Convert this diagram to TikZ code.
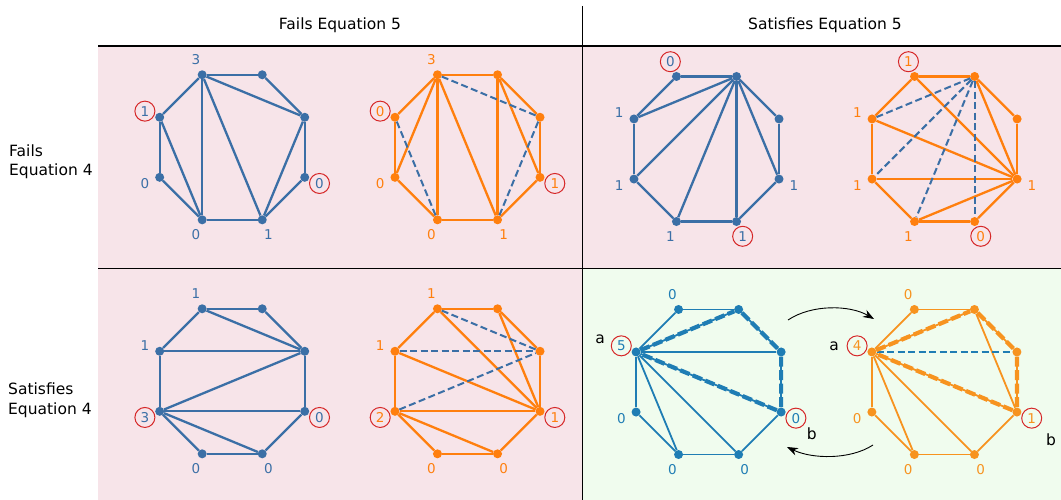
\documentclass[tikz,border=0pt]{standalone}
\usepackage{fontspec}
\setmainfont{DejaVu Sans}
\usetikzlibrary{arrows.meta}
\definecolor{blueA}{HTML}{3B6FA6}
\definecolor{orangeA}{HTML}{FF7F0E}
\definecolor{blueB}{HTML}{1F7DB4}
\definecolor{orangeB}{HTML}{F7931F}
\definecolor{ringred}{HTML}{D62728}
\definecolor{pinkbg}{HTML}{F7E4E9}
\definecolor{greenbg}{HTML}{F0FCEE}

\begin{document}
\begin{tikzpicture}[
    x=1pt, y=1pt,
    vtx/.style={circle, inner sep=0pt, minimum size=9pt},
    lbl/.style={font=\fontsize{13.5}{16}\selectfont, inner sep=0pt},
    ring/.style={lbl, draw=ringred, line width=1pt, circle, minimum size=20pt},
    hdr/.style={font=\fontsize{15.5}{19.5}\selectfont, inner sep=0pt},
    edge/.style={line width=2.3pt},
    fine/.style={line width=1.8pt},
    flip/.style={line width=2pt, dash pattern=on 7pt off 3.5pt},
    quad/.style={line width=4.2pt, dash pattern=on 10pt off 3.5pt},
    >={Stealth[length=11pt, width=8pt]}
]
\useasboundingbox (0,0) rectangle (1061,-500);
% panels
\fill[pinkbg] (98,-46) rectangle (582,-500);
\fill[pinkbg] (582,-46) rectangle (1061,-268);
\fill[greenbg] (582,-268) rectangle (1061,-500);
\draw[line width=1.3pt] (98,-46) -- (1061,-46);
\draw[line width=0.9pt] (98,-268) -- (1061,-268);
\draw[line width=0.9pt] (582,-6) -- (582,-500);

\node[hdr, anchor=base] (colF) at (340,-30) {Fails Equation 5};
\node[hdr, anchor=base] (colS) at (825,-30) {Satisfies Equation 5};
\node[hdr, anchor=base west, align=left] (rowF) at (9,-175.7) {Fails\\Equation 4};
\node[hdr, anchor=base west, align=left] (rowS) at (8,-414) {Satisfies\\Equation 4};

% octagons: vertex 0 top-left, clockwise
\foreach \g/\cx/\cy/\col/\e in {ffB/232.2/147.3/blueA/edge, ffO/467.5/147.3/orangeA/edge,
    fsB/706.5/149/blueA/edge, fsO/944.6/149/orangeA/edge,
    sfB/232.2/381.3/blueA/edge, sfO/467.5/381.3/orangeA/edge,
    ssB/708.6/382/blueB/fine, ssO/944.4/382/orangeB/fine} {
  \foreach \i in {0,...,7}
    \node[vtx, fill=\col] (\g\i) at ([shift={(\cx,-\cy)}]{112.5-45*\i}:78.5) {};
  \foreach \i [evaluate=\i as \j using {int(mod(\i+1,8))}] in {0,...,7}
    \draw[\e, \col] (\g\i) -- (\g\j);
}

% fails / fails
\foreach \a/\b in {0/2,0/5,0/4,7/5,2/4} \draw[edge, blueA] (ffB\a) -- (ffB\b);
\foreach \a/\b in {0/6,0/5,0/4,1/4,1/3} \draw[edge, orangeA] (ffO\a) -- (ffO\b);
\foreach \a/\b in {0/2,7/5,2/4} \draw[flip, blueA] (ffO\a) -- (ffO\b);
\foreach \i/\t/\s in {0/3/lbl,7/1/ring,6/0/lbl,5/0/lbl,4/1/lbl,3/0/ring}
  \node[\s, text=blueA] (ffB-l\i) at ([shift={({112.5-45*\i}:16)}]ffB\i) {\t};
\foreach \i/\t/\s in {0/3/lbl,7/0/ring,6/0/lbl,5/0/lbl,4/1/lbl,3/1/ring}
  \node[\s, text=orangeA] (ffO-l\i) at ([shift={({112.5-45*\i}:16)}]ffO\i) {\t};

% fails eq 4 / satisfies eq 5
\foreach \a/\b in {1/7,1/6,1/5,1/4,1/3} \draw[edge, blueA] (fsB\a) -- (fsB\b);
\foreach \a/\b in {0/3,7/3,6/3,5/3,1/3} \draw[edge, orangeA] (fsO\a) -- (fsO\b);
\foreach \a/\b in {1/7,1/6,1/5,1/4} \draw[flip, blueA] (fsO\a) -- (fsO\b);
\foreach \i/\t/\s in {0/0/ring,7/1/lbl,6/1/lbl,5/1/lbl,4/1/ring,3/1/lbl}
  \node[\s, text=blueA] (fsB-l\i) at ([shift={({112.5-45*\i}:16)}]fsB\i) {\t};
\foreach \i/\t/\s in {0/1/ring,7/1/lbl,6/1/lbl,5/1/lbl,4/0/ring,3/1/lbl}
  \node[\s, text=orangeA] (fsO-l\i) at ([shift={({112.5-45*\i}:16)}]fsO\i) {\t};

% satisfies eq 4 / fails eq 5
\foreach \a/\b in {0/2,7/2,6/2,6/3,6/4} \draw[edge, blueA] (sfB\a) -- (sfB\b);
\foreach \a/\b in {0/3,1/3,7/3,6/3,6/4} \draw[edge, orangeA] (sfO\a) -- (sfO\b);
\foreach \a/\b in {0/2,7/2,6/2} \draw[flip, blueA] (sfO\a) -- (sfO\b);
\foreach \i/\t/\s in {0/1/lbl,7/1/lbl,6/3/ring,5/0/lbl,4/0/lbl,3/0/ring}
  \node[\s, text=blueA] (sfB-l\i) at ([shift={({112.5-45*\i}:16)}]sfB\i) {\t};
\foreach \i/\t/\s in {0/1/lbl,7/1/lbl,6/2/ring,5/0/lbl,4/0/lbl,3/1/ring}
  \node[\s, text=orangeA] (sfO-l\i) at ([shift={({112.5-45*\i}:16)}]sfO\i) {\t};

% satisfies / satisfies
\foreach \a/\b in {7/1,7/2,7/3,7/4,7/5} \draw[fine, blueB] (ssB\a) -- (ssB\b);
\draw[quad, blueB] (ssB7) -- (ssB1) -- (ssB2) -- (ssB3) -- (ssB7);
\foreach \a/\b in {7/1,7/3,7/4,7/5,1/3} \draw[fine, orangeB] (ssO\a) -- (ssO\b);
\draw[flip, blueB, line width=1.6pt] (ssO7) -- (ssO2);
\draw[quad, orangeB] (ssO7) -- (ssO1) -- (ssO2) -- (ssO3) -- (ssO7);
\foreach \i/\t/\s in {0/0/lbl,7/5/ring,6/0/lbl,5/0/lbl,4/0/lbl,3/0/ring}
  \node[\s, text=blueB] (ssB-l\i) at ([shift={({112.5-45*\i}:16)}]ssB\i) {\t};
\foreach \i/\t/\s in {0/0/lbl,7/4/ring,6/0/lbl,5/0/lbl,4/0/lbl,3/1/ring}
  \node[\s, text=orangeB] (ssO-l\i) at ([shift={({112.5-45*\i}:16)}]ssO\i) {\t};
\node[hdr, anchor=base] (ssB-a) at (600,-343.3) {a};
\node[hdr, anchor=base] (ssB-b) at (811.7,-439.3) {b};
\node[hdr, anchor=base] (ssO-a) at (834,-350) {a};
\node[hdr, anchor=base] (ssO-b) at (1051,-445) {b};

% flip arrows
\coordinate (fwdS) at (788,-320);
\coordinate (fwdE) at (874,-319);
\coordinate (bckS) at (873,-445);
\coordinate (bckE) at (787,-447);
\draw[->, line width=0.9pt] (fwdS) .. controls (812,-304) and (850,-305) .. (fwdE);
\draw[->, line width=0.9pt] (bckS) .. controls (850,-460) and (812,-459) .. (bckE);
\end{tikzpicture}
\end{document}
